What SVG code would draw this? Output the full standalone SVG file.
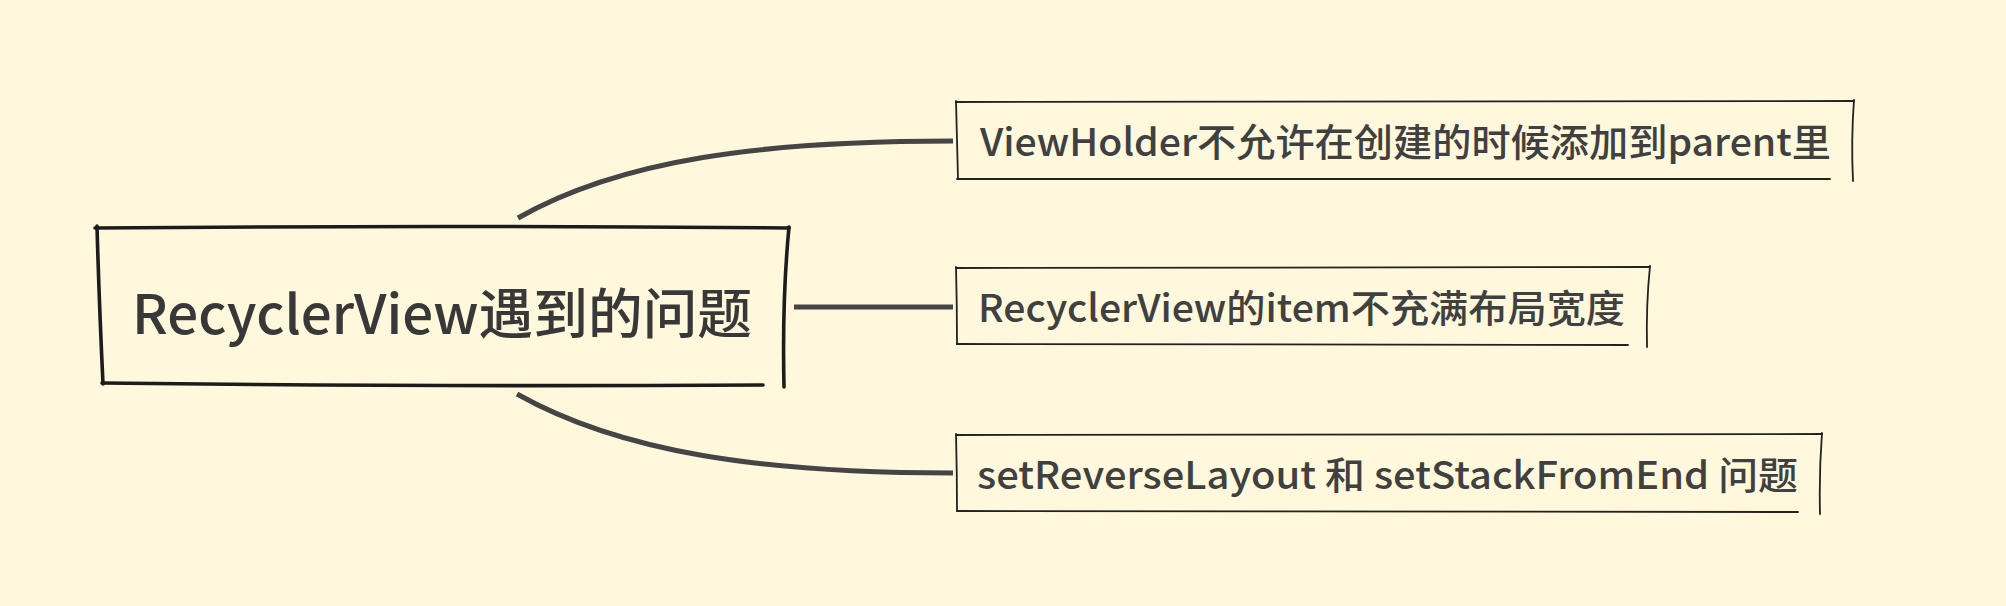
<svg xmlns="http://www.w3.org/2000/svg" width="2006" height="606" viewBox="0 0 2006 606">
  <style>
    .edge { fill: none; stroke: #454545; stroke-width: 5; stroke-linecap: butt; }
    .main-line { fill: none; stroke: #1c1c1c; stroke-width: 3.6; stroke-linecap: round; }
    .box-line { fill: none; stroke: #222; stroke-width: 1.8; stroke-linecap: round; }
    .fill { fill: #fff8dd; stroke: none; }
    .t-main { font-family: "Noto Sans CJK SC", "Noto Sans", sans-serif; font-size: 54px; fill: #383838; font-weight: 500; }
    .t { font-family: "Noto Sans CJK SC", "Noto Sans", sans-serif; font-size: 38px; fill: #404040; font-weight: 500; }
  </style>
  <rect x="0" y="0" width="2006" height="606" fill="#fff8dc"/>

  <g id="connectors">
    <path class="edge" d="M518 218 C 620 160, 760 141, 953 141"/>
    <path class="edge" d="M794 307 L 953 307"/>
    <path class="edge" d="M517 394 C 620 452, 760 473, 953 473"/>
  </g>

  <g id="root">
    <rect class="fill" x="98" y="228" width="687" height="157"/>
    <path class="main-line" d="M95 228 Q 440 225 789 228"/>
    <path class="main-line" d="M789 227 Q 782 300 784 387"/>
    <path class="main-line" d="M763 385 Q 420 387 102 383"/>
    <path class="main-line" d="M97 226 Q 99 300 103 384"/>
    <text class="t-main" x="132" y="334" textLength="620" lengthAdjust="spacingAndGlyphs">RecyclerView遇到的问题</text>
  </g>

  <g id="node1">
    <rect class="fill" x="957" y="102" width="895" height="77"/>
    <path class="box-line" d="M956 102 Q 1400 100 1854 101"/>
    <path class="box-line" d="M1854 100 Q 1851 140 1853 181"/>
    <path class="box-line" d="M1830 179 Q 1400 178 957 179"/>
    <path class="box-line" d="M956 101 Q 957 140 958 179"/>
    <text class="t" x="980" y="156" textLength="851" lengthAdjust="spacingAndGlyphs">ViewHolder不允许在创建的时候添加到parent里</text>
  </g>

  <g id="node2">
    <rect class="fill" x="957" y="268" width="691" height="77"/>
    <path class="box-line" d="M956 268 Q 1300 266 1650 267"/>
    <path class="box-line" d="M1650 266 Q 1646 305 1647 347"/>
    <path class="box-line" d="M1628 345 Q 1300 344 957 344"/>
    <path class="box-line" d="M956 267 Q 957 305 957 344"/>
    <text class="t" x="978" y="322" textLength="647" lengthAdjust="spacingAndGlyphs">RecyclerView的item不充满布局宽度</text>
  </g>

  <g id="node3">
    <rect class="fill" x="957" y="435" width="863" height="77"/>
    <path class="box-line" d="M956 435 Q 1400 433 1822 434"/>
    <path class="box-line" d="M1822 433 Q 1819 472 1820 514"/>
    <path class="box-line" d="M1798 512 Q 1400 511 957 511"/>
    <path class="box-line" d="M956 434 Q 957 472 957 511"/>
    <text class="t" x="977" y="489" textLength="821" lengthAdjust="spacingAndGlyphs">setReverseLayout 和 setStackFromEnd 问题</text>
  </g>
</svg>
